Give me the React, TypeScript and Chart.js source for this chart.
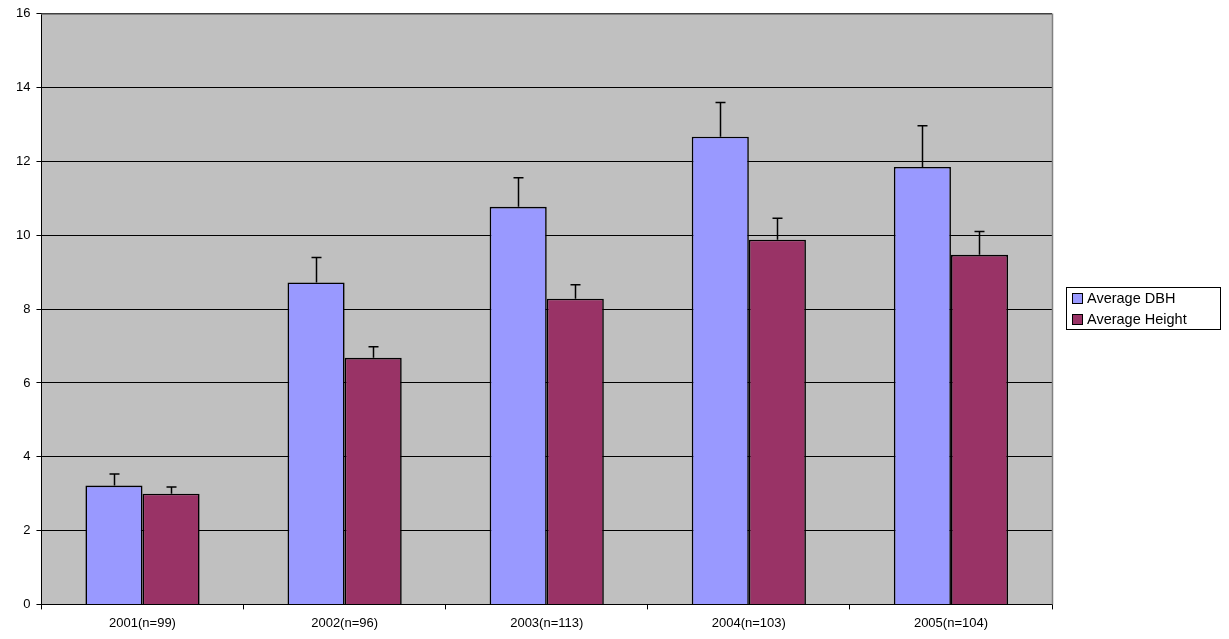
import React, { useEffect, useRef } from "react";
import { Chart, registerables } from "chart.js";
Chart.register(...registerables);

const categories = ["2001(n=99)", "2002(n=96)", "2003(n=113)", "2004(n=103)", "2005(n=104)"];
const dbh = [3.22, 8.72, 10.77, 12.67, 11.85];
const dbhErr = [0.31, 0.68, 0.79, 0.93, 1.12];
const height = [3.0, 6.68, 8.28, 9.88, 9.47];
const heightErr = [0.18, 0.3, 0.38, 0.58, 0.63];
const yTicks = [0, 2, 4, 6, 8, 10, 12, 14, 16];
const seriesNames = ["Average DBH", "Average Height"];
const colors = ["#9999FF", "#993366"];
const FONT = "Liberation Sans";

const bgPlugin = {
  id: "bg",
  beforeDraw(chart: any) {
    const { ctx, chartArea: a } = chart;
    ctx.save();
    ctx.fillStyle = "#C0C0C0";
    ctx.fillRect(a.left, a.top, a.right - a.left, a.bottom - a.top);
    ctx.restore();
  },
  afterDraw(chart: any) {
    const { ctx, chartArea: a } = chart;
    ctx.save();
    ctx.strokeStyle = "#808080";
    ctx.lineWidth = 1.5;
    ctx.beginPath();
    ctx.moveTo(a.left, a.top + 0.5);
    ctx.lineTo(a.right + 0.5, a.top + 0.5);
    ctx.lineTo(a.right + 0.5, a.bottom);
    ctx.stroke();
    // legend
    const lx = a.right + 14, ly = 287, lw = 154, lh = 42;
    ctx.fillStyle = "#fff";
    ctx.fillRect(lx, ly, lw, lh);
    ctx.strokeStyle = "#000";
    ctx.lineWidth = 1;
    ctx.strokeRect(lx + 0.5, ly + 0.5, lw, lh);
    ctx.font = `14.5px "${FONT}"`;
    ctx.textBaseline = "middle";
    seriesNames.forEach((n, i) => {
      const cy = ly + 11 + i * 21;
      ctx.fillStyle = colors[i];
      ctx.fillRect(lx + 6, cy - 5, 10, 10);
      ctx.strokeRect(lx + 6.5, cy - 4.5, 10, 10);
      ctx.fillStyle = "#000";
      ctx.fillText(n, lx + 21, cy + 1);
    });
    ctx.restore();
  },
};

const errPlugin = {
  id: "err",
  afterDatasetsDraw(chart: any) {
    const { ctx } = chart;
    const y = chart.scales.y;
    const errs = [dbhErr, heightErr];
    ctx.save();
    ctx.strokeStyle = "#000";
    ctx.lineWidth = 1.5;
    chart.data.datasets.forEach((ds: any, i: number) => {
      const meta = chart.getDatasetMeta(i);
      meta.data.forEach((bar: any, j: number) => {
        const x = Math.round(bar.x) + 0.5;
        const y0 = y.getPixelForValue(ds.data[j]);
        const y1 = y.getPixelForValue(ds.data[j] + errs[i][j]);
        ctx.beginPath();
        ctx.moveTo(x, y0);
        ctx.lineTo(x, y1);
        ctx.moveTo(x - 5, y1);
        ctx.lineTo(x + 5, y1);
        ctx.stroke();
      });
    });
    ctx.restore();
  },
};

export default function App() {
  const ref = useRef<HTMLCanvasElement>(null);
  useEffect(() => {
    const chart = new Chart(ref.current!, {
      type: "bar",
      data: {
        labels: categories,
        datasets: [
          { label: seriesNames[0], data: dbh, backgroundColor: colors[0], borderColor: "#000", borderWidth: 1.6 },
          { label: seriesNames[1], data: height, backgroundColor: colors[1], borderColor: "#000", borderWidth: 1.6 },
        ],
      },
      options: {
        animation: false,
        responsive: false,
        devicePixelRatio: 1,
        layout: { padding: { top: 5, right: 177, left: 10, bottom: 2 } },
        datasets: { bar: { barPercentage: 1, categoryPercentage: 0.565 } },
        plugins: { tooltip: { enabled: false }, legend: { display: false } },
        scales: {
          x: {
            grid: { offset: true, drawOnChartArea: false, color: "#000", tickLength: 5 },
            border: { color: "#000" },
            ticks: { color: "#000", font: { family: FONT, size: 13 }, padding: 6 },
          },
          y: {
            min: 0,
            max: 16,
            afterBuildTicks: (s: any) => { s.ticks = yTicks.map((v) => ({ value: v })); },
            grid: { color: "#000", tickLength: 5 },
            border: { color: "#000" },
            ticks: { color: "#000", font: { family: FONT, size: 13 }, padding: 6 },
          },
        },
      },
      plugins: [bgPlugin, errPlugin],
    } as any);
    return () => chart.destroy();
  }, []);
  return (
    <div style={{ position: "absolute", left: 0, top: 0, width: 1229, height: 639 }}>
      <canvas ref={ref} width={1229} height={639} />
    </div>
  );
}
